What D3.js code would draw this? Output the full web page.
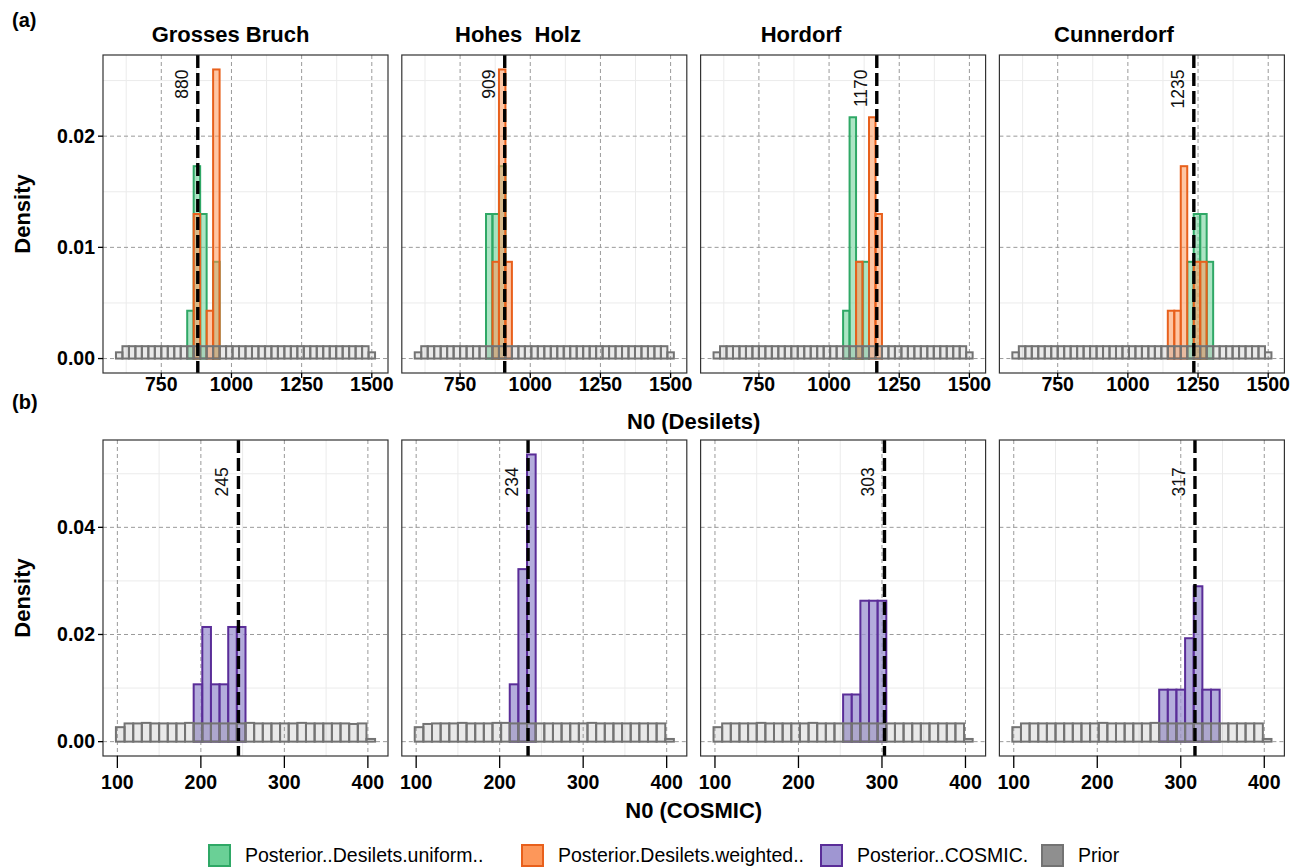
<!DOCTYPE html>
<html>
<head>
<meta charset="utf-8">
<script src="https://cdn.jsdelivr.net/npm/d3@7"></script>
<style>
body { margin: 0; background: #fff; }
svg { font-family: "Liberation Sans", Arial, sans-serif; }
</style>
</head>
<body>
<svg id="chart" width="1296" height="867"></svg>
<script>
const width = 1296;
const height = 867;

const sites = ['Grosses Bruch', 'Hohes  Holz', 'Hordorf', 'Cunnerdorf'];
const desiletsRef = [880, 909, 1170, 1235];
const cosmicRef = [245, 234, 303, 317];

// histogram bin grid: [first break, bin width]
const desiletsBin = [588.46, 23.077];
const cosmicBin = [98.28, 10.345];

const desiletsTicks = [750, 1000, 1250, 1500];
const desiletsMinor = [625, 875, 1125, 1375];
const cosmicTicks = [100, 200, 300, 400];
const cosmicMinor = [150, 250, 350];
const desiletsYTicks = [0, 0.01, 0.02];
const desiletsYMinor = [0.005, 0.015, 0.025];
const cosmicYTicks = [0, 0.02, 0.04];
const cosmicYMinor = [0.01, 0.03, 0.05];

// prior densities, one value per bin (same prior for the 4 sites in (a))
const priorDesilets = [0.00056, 0.00111, 0.00111, 0.00111, 0.00111, 0.00111, 0.00111, 0.00111,
  0.00111, 0.00111, 0.00111, 0.00111, 0.00111, 0.00111, 0.00111, 0.00111, 0.00111, 0.00111,
  0.00111, 0.00111, 0.00111, 0.00111, 0.00111, 0.00111, 0.00111, 0.00111, 0.00111, 0.00111,
  0.00111, 0.00111, 0.00111, 0.00111, 0.00111, 0.00111, 0.00111, 0.00111, 0.00111, 0.00111,
  0.00111, 0.00056];

const priorCosmic = [
  [0.0027, 0.0034, 0.0034, 0.0035, 0.0034, 0.0034, 0.0034, 0.0034, 0.0035, 0.0034,
   0.0034, 0.0034, 0.0034, 0.0034, 0.0034, 0.0035, 0.0034, 0.0034, 0.0034, 0.0034,
   0.0034, 0.0035, 0.0034, 0.0034, 0.0034, 0.0034, 0.0034, 0.0033, 0.0034, 0.0005],
  [0.0027, 0.0033, 0.0034, 0.0034, 0.0034, 0.0035, 0.0034, 0.0034, 0.0034, 0.0035,
   0.0035, 0.0034, 0.0034, 0.0034, 0.0034, 0.0034, 0.0034, 0.0034, 0.0034, 0.0034,
   0.0035, 0.0034, 0.0034, 0.0034, 0.0034, 0.0034, 0.0034, 0.0034, 0.0034, 0.0005],
  [0.0027, 0.0034, 0.0034, 0.0034, 0.0034, 0.0035, 0.0034, 0.0034, 0.0034, 0.0034,
   0.0034, 0.0035, 0.0034, 0.0034, 0.0034, 0.0034, 0.0034, 0.0034, 0.0034, 0.0034,
   0.0034, 0.0034, 0.0034, 0.0034, 0.0034, 0.0034, 0.0034, 0.0034, 0.0034, 0.0005],
  [0.0027, 0.0034, 0.0034, 0.0034, 0.0034, 0.0034, 0.0034, 0.0034, 0.0034, 0.0034,
   0.0035, 0.0034, 0.0034, 0.0034, 0.0034, 0.0034, 0.0035, 0.0034, 0.0034, 0.0034,
   0.0034, 0.0034, 0.0034, 0.0034, 0.0034, 0.0034, 0.0034, 0.0034, 0.0034, 0.0005]
];

// posteriors: [bin index, density]
const uniformPost = [
  [[11, 0.0043], [12, 0.0173], [13, 0.013], [15, 0.0087]],
  [[11, 0.013], [12, 0.013], [13, 0.0173]],
  [[20, 0.0043], [21, 0.0217], [22, 0.0087], [23, 0.0087]],
  [[27, 0.0087], [28, 0.013], [29, 0.013], [30, 0.0087]]
];
const weightedPost = [
  [[12, 0.013], [14, 0.0043], [15, 0.026]],
  [[12, 0.0087], [13, 0.026], [14, 0.0087]],
  [[22, 0.0087], [24, 0.0217], [25, 0.013]],
  [[24, 0.0043], [25, 0.0043], [26, 0.0173], [28, 0.0087], [29, 0.0087]]
];
const cosmicPost = [
  [[9, 0.0107], [10, 0.0214], [11, 0.0107], [12, 0.0107], [13, 0.0214], [14, 0.0214]],
  [[11, 0.0107], [12, 0.0322], [13, 0.0536]],
  [[15, 0.0088], [16, 0.0088], [17, 0.0263], [18, 0.0263], [19, 0.0263]],
  [[17, 0.0097], [18, 0.0097], [19, 0.0097], [20, 0.0193], [21, 0.029], [22, 0.0097], [23, 0.0097]]
];

const legendNames = ['Posterior..Desilets.uniform..', 'Posterior.Desilets.weighted..', 'Posterior..COSMIC.', 'Prior'];

// styles
const styles = {
  uniform:  { stroke: '#2fa866', fill: '#6ad096', op: 0.55 },
  weighted: { stroke: '#e8601c', fill: '#fd975a', op: 0.55 },
  cosmic:   { stroke: '#5a2d98', fill: '#9f96d2', op: 0.78 },
  prior:    { stroke: '#737373', fill: '#8f8f8f', op: 0.2 }
};
const legendStyle = [styles.uniform, styles.weighted, styles.cosmic, styles.prior];

const panelLeft = 103, panelW = 285, panelStep = 298.8;
const titleX = [230.5, 518, 801, 1114];

const svg = d3.select('#chart');

const rows = [
  {
    tag: '(a)', tagY: 27, y0: 55, y1: 373, bin: desiletsBin,
    xDomain: [542.3, 1557.7], yDomain: [-0.0013, 0.0273],
    xTicks: desiletsTicks, xMinor: desiletsMinor, yTicks: desiletsYTicks, yMinor: desiletsYMinor,
    yFmt: d3.format('.2f'),
    priors: [priorDesilets, priorDesilets, priorDesilets, priorDesilets],
    posts: [[uniformPost, 'uniform'], [weightedPost, 'weighted']],
    ref: desiletsRef, labelY: 0.026, tickLen: 5, tickLabelY: 391,
    xTitle: 'N0 (Desilets)', xTitleY: 429, titles: true
  },
  {
    tag: '(b)', tagY: 409, y0: 440, y1: 756, bin: cosmicBin,
    xDomain: [82.8, 424.1], yDomain: [-0.00268, 0.0563],
    xTicks: cosmicTicks, xMinor: cosmicMinor, yTicks: cosmicYTicks, yMinor: cosmicYMinor,
    yFmt: d3.format('.2f'),
    priors: priorCosmic,
    posts: [[cosmicPost, 'cosmic']],
    ref: cosmicRef, labelY: 0.0512, tickLen: 12, tickLabelY: 789,
    xTitle: 'N0 (COSMIC)', xTitleY: 818, titles: false
  }
];

rows.forEach(row => {
  const y = d3.scaleLinear().domain(row.yDomain).range([row.y1, row.y0]);
  const [b0, bw] = row.bin;

  svg.append('text')
    .attr('x', 12).attr('y', row.tagY)
    .style('font-size', '20px').style('font-weight', 'bold')
    .text(row.tag);

  sites.forEach((site, i) => {
    const left = panelLeft + i * panelStep;
    const x = d3.scaleLinear().domain(row.xDomain).range([left, left + panelW]);
    const g = svg.append('g');

    // minor grid
    g.selectAll('.vmin').data(row.xMinor).enter().append('line')
      .attr('x1', d => x(d)).attr('x2', d => x(d)).attr('y1', row.y0).attr('y2', row.y1)
      .style('stroke', '#ebebeb').style('stroke-width', 1);
    g.selectAll('.hmin').data(row.yMinor).enter().append('line')
      .attr('x1', left).attr('x2', left + panelW).attr('y1', d => y(d)).attr('y2', d => y(d))
      .style('stroke', '#ebebeb').style('stroke-width', 1);
    // major grid, dashed
    g.selectAll('.vmaj').data(row.xTicks).enter().append('line')
      .attr('x1', d => x(d)).attr('x2', d => x(d)).attr('y1', row.y0).attr('y2', row.y1)
      .style('stroke', '#9a9a9a').style('stroke-width', 1).style('stroke-dasharray', '4,3');
    g.selectAll('.hmaj').data(row.yTicks).enter().append('line')
      .attr('x1', left).attr('x2', left + panelW).attr('y1', d => y(d)).attr('y2', d => y(d))
      .style('stroke', '#9a9a9a').style('stroke-width', 1).style('stroke-dasharray', '4,3');

    const drawBars = (bars, st, sw) => {
      g.append('g').selectAll('rect').data(bars).enter().append('rect')
        .attr('x', d => x(b0 + d[0] * bw))
        .attr('width', d => x(b0 + (d[0] + 1) * bw) - x(b0 + d[0] * bw))
        .attr('y', d => y(d[1]))
        .attr('height', d => y(0) - y(d[1]))
        .style('fill', st.fill).style('fill-opacity', st.op)
        .style('stroke', st.stroke).style('stroke-width', sw);
    };

    row.posts.forEach(([data, key]) => drawBars(data[i], styles[key], 2));
    drawBars(row.priors[i].map((d, k) => [k, d]), styles.prior, 2);

    // reference line and value label
    const rx = x(row.ref[i]);
    g.append('line')
      .attr('x1', rx).attr('x2', rx).attr('y1', row.y0).attr('y2', row.y1)
      .style('stroke', '#000').style('stroke-width', 3.4).style('stroke-dasharray', '13,5');
    g.append('text')
      .attr('transform', `translate(${rx - 10}, ${y(row.labelY)}) rotate(-90)`)
      .style('text-anchor', 'end').style('font-size', '17.5px').style('fill', '#111')
      .text(row.ref[i]);

    // border
    g.append('rect')
      .attr('x', left).attr('y', row.y0).attr('width', panelW).attr('height', row.y1 - row.y0)
      .style('fill', 'none').style('stroke', '#333').style('stroke-width', 1.2);

    // x ticks and labels
    g.selectAll('.xt').data(row.xTicks).enter().append('line')
      .attr('x1', d => x(d)).attr('x2', d => x(d)).attr('y1', row.y1).attr('y2', row.y1 + row.tickLen)
      .style('stroke', '#000').style('stroke-width', 1.3);
    g.selectAll('.xl').data(row.xTicks).enter().append('text')
      .attr('x', d => x(d)).attr('y', row.tickLabelY)
      .style('text-anchor', 'middle').style('font-size', '19.5px').style('font-weight', 'bold')
      .text(d => d);

    if (i === 0) {
      g.selectAll('.yt').data(row.yTicks).enter().append('line')
        .attr('x1', left - 5).attr('x2', left).attr('y1', d => y(d)).attr('y2', d => y(d))
        .style('stroke', '#000').style('stroke-width', 1.3);
      g.selectAll('.yl').data(row.yTicks).enter().append('text')
        .attr('x', left - 8).attr('y', d => y(d)).attr('dy', '0.35em')
        .style('text-anchor', 'end').style('font-size', '19.5px').style('font-weight', 'bold')
        .text(d => row.yFmt(d));
    }

    if (row.titles) {
      svg.append('text')
        .attr('x', titleX[i]).attr('y', 42)
        .attr('xml:space', 'preserve').style('white-space', 'pre')
        .style('text-anchor', 'middle').style('font-size', '22px').style('font-weight', 'bold')
        .text(site);
    }
  });

  svg.append('text')
    .attr('transform', `translate(30, ${(row.y0 + row.y1) / 2}) rotate(-90)`)
    .style('text-anchor', 'middle').style('font-size', '22px').style('font-weight', 'bold')
    .text('Density');

  svg.append('text')
    .attr('x', panelLeft + (3 * panelStep + panelW) / 2).attr('y', row.xTitleY)
    .style('text-anchor', 'middle').style('font-size', '22px').style('font-weight', 'bold')
    .text(row.xTitle);
});

// legend
const legendX = [209, 522, 821, 1042];
const legend = svg.append('g');
legendNames.forEach((name, i) => {
  const st = legendStyle[i];
  legend.append('rect')
    .attr('x', legendX[i]).attr('y', 845).attr('width', 21).attr('height', 21)
    .style('fill', st.fill).style('stroke', st.stroke).style('stroke-width', 2);
  legend.append('text')
    .attr('x', legendX[i] + 36).attr('y', 862)
    .style('font-size', '19.5px')
    .text(name);
});
</script>
</body>
</html>
